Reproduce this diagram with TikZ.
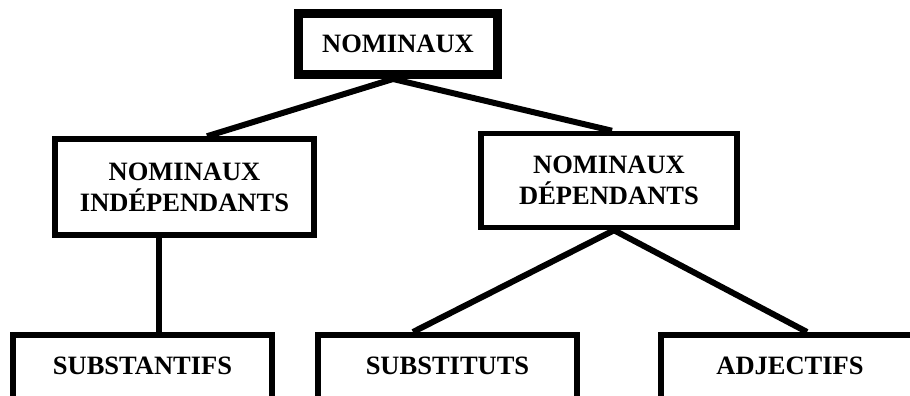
\documentclass[tikz,border=0pt]{standalone}
\usepackage{fontspec}
\setmainfont{Liberation Serif}
\begin{document}
\begin{tikzpicture}[x=1pt,y=-1pt,
  lbl/.style={font=\fontsize{26.5}{31}\selectfont\bfseries, align=center},
  box/.style={lbl, draw, line width=5.5pt, inner sep=0pt},
  topbox/.style={box, line width=9pt},
  lowbox/.style={box, anchor=north, text height=40pt, text depth=60pt},
  conn/.style={line width=6pt}]
\useasboundingbox (0,0) rectangle (910,396);
\clip (0,0) rectangle (910,396);
\node[topbox, minimum width=199pt, minimum height=61pt] (top) at (398,44) {NOMINAUX};
\node[box, minimum width=259pt, minimum height=96pt] (ind) at (184.5,187) {NOMINAUX\\IND\'EPENDANTS};
\node[box, minimum width=256pt, minimum height=94pt] (dep) at (609,180.5) {NOMINAUX\\D\'EPENDANTS};
\node[lowbox, minimum width=259pt] (subst) at (142.5,332) {SUBSTANTIFS};
\node[lowbox, minimum width=259pt] (substit) at (447.5,332) {SUBSTITUTS};
\node[lowbox, minimum width=258pt] (adj) at (790,332) {ADJECTIFS};
\draw[conn] ([xshift=-5pt]top.south) -- ([xshift=22.5pt]ind.north);
\draw[conn] ([xshift=-5pt]top.south) -- ([xshift=3pt]dep.north);
\draw[conn] ([xshift=-25.5pt]ind.south) -- ([xshift=16.5pt]subst.north);
\draw[conn] ([xshift=5pt]dep.south) -- ([xshift=-34.5pt]substit.north);
\draw[conn] ([xshift=5pt]dep.south) -- ([xshift=17pt]adj.north);
\end{tikzpicture}
\end{document}
